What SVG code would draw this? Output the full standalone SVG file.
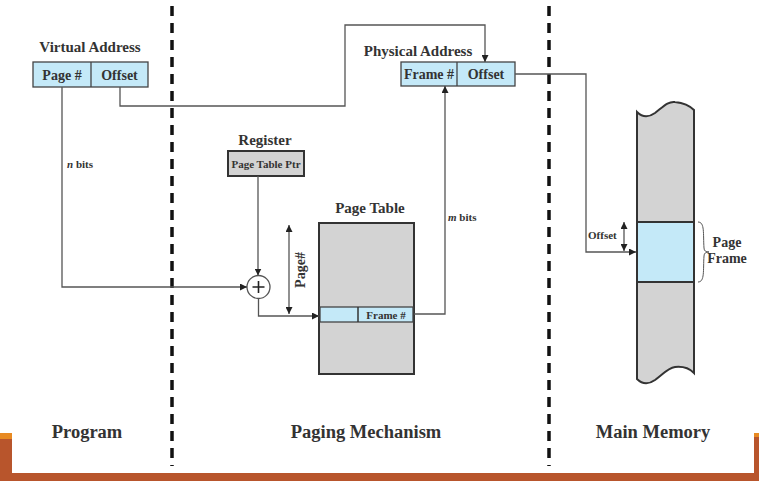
<svg xmlns="http://www.w3.org/2000/svg" width="759" height="481" viewBox="0 0 759 481" font-family="'Liberation Serif', 'Times New Roman', 'DejaVu Serif', serif">
<style>
text{font-family:'Liberation Serif','Times New Roman','DejaVu Serif',serif;font-weight:bold;fill:#333}
.lbl{font-size:15px}
.cell{font-size:14px}
.sm{font-size:11px}
.big{font-size:18.5px}
.blue{fill:#c4e9f8;stroke:#444;stroke-width:1.3}
.gray{fill:#d3d3d3;stroke:#333;stroke-width:2}
.ln{fill:none;stroke:#555;stroke-width:1.3}
.arr{marker-end:url(#ah)}
.dash{stroke:#111;stroke-width:3.5;stroke-dasharray:10 7}
</style>
<defs>
<marker id="ah" viewBox="0 0 10 10" refX="10" refY="5" markerWidth="7" markerHeight="7" markerUnits="userSpaceOnUse" orient="auto-start-reverse">
<path d="M0,0 L10,5 L0,10 z" fill="#222"/>
</marker>
</defs>
<rect width="759" height="481" fill="#fff"/>
<g id="frame">
<path d="M0,433 H12 V473 H754 V433 H759 V481 H0 Z" fill="#b8552c"/>
<rect x="0" y="433" width="12" height="6" fill="#e88a22"/>
<rect x="754" y="433" width="5" height="4" fill="#e88a22"/>
</g>
<g id="dividers">
<line class="dash" x1="172" y1="6" x2="172" y2="466"/>
<line class="dash" x1="549" y1="6" x2="549" y2="466"/>
</g>
<g id="virtual-address">
<text class="lbl" x="90" y="52" text-anchor="middle">Virtual Address</text>
<rect class="blue" x="33" y="62" width="115" height="25"/>
<line x1="91" y1="62" x2="91" y2="87" stroke="#444" stroke-width="1.3"/>
<text class="cell" x="62" y="79.5" text-anchor="middle">Page #</text>
<text class="cell" x="119.5" y="79.5" text-anchor="middle">Offset</text>
</g>
<g id="physical-address">
<text class="lbl" x="418" y="56" text-anchor="middle">Physical Address</text>
<rect class="blue" x="401" y="62" width="114" height="24"/>
<line x1="457" y1="62" x2="457" y2="86" stroke="#444" stroke-width="1.3"/>
<text class="cell" x="429" y="79" text-anchor="middle">Frame #</text>
<text class="cell" x="486" y="79" text-anchor="middle">Offset</text>
</g>
<g id="register">
<text class="lbl" x="265" y="145" text-anchor="middle">Register</text>
<rect class="gray" x="228" y="151" width="76" height="25"/>
<text class="sm" x="266" y="167.5" text-anchor="middle">Page Table Ptr</text>
</g>
<g id="adder">
<circle cx="258.5" cy="287" r="11.5" fill="#fff" stroke="#555" stroke-width="1.3"/>
<path d="M258.5,281 V293 M252.5,287 H264.5" stroke="#222" stroke-width="1.6"/>
</g>
<g id="page-table">
<text class="lbl" x="370" y="213" text-anchor="middle">Page Table</text>
<rect class="gray" x="319" y="223" width="95" height="151"/>
<rect class="blue" x="320" y="307" width="93" height="15"/>
<line x1="358" y1="307" x2="358" y2="322" stroke="#333" stroke-width="1.5"/>
<text class="sm" x="386" y="318.5" text-anchor="middle" font-size="12">Frame #</text>
</g>
<g id="main-memory">
<path d="M637,112 C642,117 648,118 655,113 C663,107 668,101 675,102 C684,103 690,106 694,110 V373 C690,369 684,366 675,367 C668,368 663,374 655,380 C648,385 642,384 637,379 Z" fill="#d3d3d3" stroke="#333" stroke-width="2"/>
<rect x="637" y="222" width="57" height="60" fill="#c4e9f8" stroke="#333" stroke-width="2"/>
<path d="M698,222 C705,222 703,234 704,248 C704,251 706,252 709,252 C706,252 704,253 704,256 C703,270 705,282 698,282" fill="none" stroke="#555" stroke-width="1"/>
<text class="cell" x="727" y="247" text-anchor="middle">Page</text>
<text class="cell" x="727" y="263" text-anchor="middle">Frame</text>
</g>
<g id="connectors">
<path class="ln arr" d="M62,87 V287 H247"/>
<text class="sm" x="67" y="168"><tspan font-style="italic">n</tspan> bits</text>
<path class="ln arr" d="M120,87 V106 H345 V25 H485 V62"/>
<path class="ln arr" d="M258,176 V275.5"/>
<path class="ln arr" d="M258.5,298.5 V316 H319"/>
<line class="ln" x1="289" y1="225" x2="289" y2="314" marker-start="url(#ah)" marker-end="url(#ah)"/>
<text class="cell" transform="translate(305,270) rotate(-90)" text-anchor="middle">Page#</text>
<path class="ln arr" d="M414,314 H445 V86"/>
<text class="sm" x="448" y="221"><tspan font-style="italic">m</tspan> bits</text>
<path class="ln arr" d="M515,74 H586 V252 H636"/>
<line class="ln" x1="624" y1="222" x2="624" y2="251" marker-start="url(#ah)" marker-end="url(#ah)"/>
<text class="sm" x="588" y="239">Offset</text>
</g>
<g id="sections">
<text class="big" x="87" y="438" text-anchor="middle">Program</text>
<text class="big" x="366" y="438" text-anchor="middle">Paging Mechanism</text>
<text class="big" x="653" y="438" text-anchor="middle">Main Memory</text>
</g>
</svg>
